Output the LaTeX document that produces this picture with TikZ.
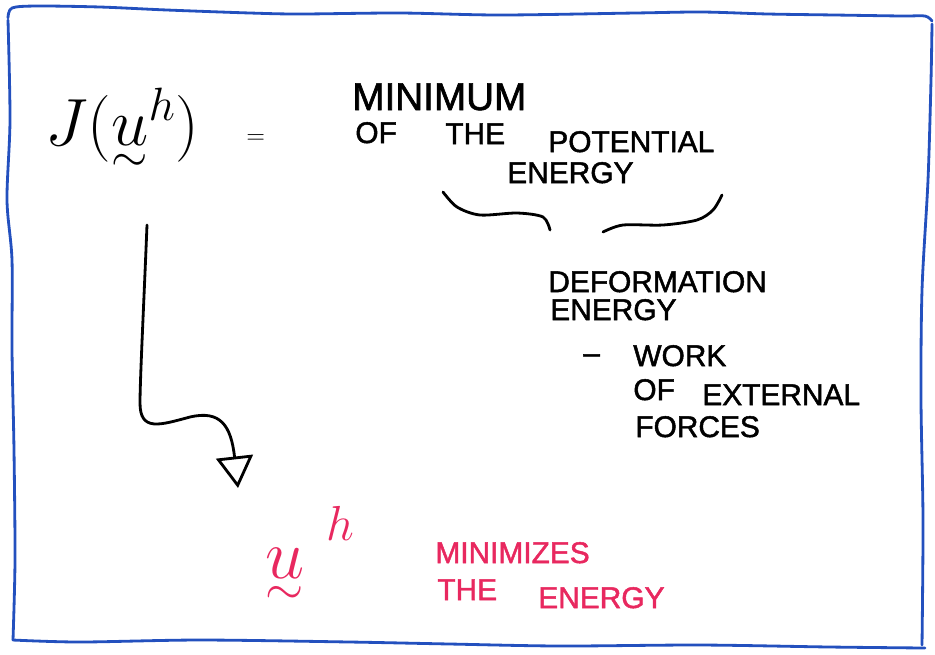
\RequirePackage{fix-cm}
\documentclass[tikz,border=0pt]{standalone}
\usepackage{amsmath}
\usepackage{fontspec}
\newfontfamily\handfont[FakeBold=1.6]{Liberation Sans}
\usetikzlibrary{arrows.meta}
\definecolor{handblue}{RGB}{35,80,190}
\definecolor{handpink}{RGB}{232,40,95}
\tikzset{
  pen/.style={line width=1.6pt, line cap=round, line join=round},
  hand/.style={font=\handfont\fontsize{17}{20}\selectfont, anchor=base west, inner sep=0pt},
  handbig/.style={hand, font=\handfont\fontsize{22}{26}\selectfont},
  redhand/.style={hand, text=handpink},
  formula/.style={anchor=base west, inner sep=0pt},
}
\begin{document}
\begin{tikzpicture}[x=0.02cm, y=-0.02cm]
\useasboundingbox (0,0) rectangle (935,654);
% frame
\draw[pen, handblue] plot[smooth] coordinates {(8,18) (12,8) (37,6) (100,7) (167,10) (250,13) (300,14) (400,13) (500,15) (635,13) (702,12) (768,14) (835,15) (902,16) (925,16) (932,21)};
\draw[pen, handblue] plot[smooth] coordinates {(932,24) (931,80) (928,180) (922,290) (921,400) (923,520) (922,645)};
\draw[pen, handblue] plot[smooth] coordinates {(13,640) (80,642) (200,640) (350,642) (450,644) (560,646) (700,645) (830,647) (925,648)};
\draw[pen, handblue] plot[smooth] coordinates {(8,20) (10,120) (7,200) (12,260) (12,350) (14,450) (15,560) (13,640)};
% functional
\node[formula, font=\fontsize{38}{44}\selectfont] (functional) at (45,145) {$J(\underset{\sim}{u}^{h})$};
\node[formula, font=\fontsize{14}{16}\selectfont] (equals) at (246,143) {$=$};
\node[handbig] (minimum) at (352,110) {MINIMUM};
\node[hand] (of) at (355,143) {OF};
\node[hand] (the) at (445,144) {THE};
\node[hand] (potential) at (548,152) {POTENTIAL};
\node[hand] (energy) at (507,183) {ENERGY};
% brace
\draw[pen] plot[smooth] coordinates {(443,192) (457,207) (480,215) (517,213) (543,217) (550,230)};
\draw[pen] plot[smooth] coordinates {(603,232) (623,225) (663,225) (697,220) (713,210) (722,195)};
\node[hand] (deformation) at (548,292) {DEFORMATION};
\node[hand] (defenergy) at (550,320) {ENERGY};
\node[hand] (minus) at (583,363) {–};
\node[hand] (work) at (633,366) {WORK};
\node[hand] (ofext) at (633,400) {OF};
\node[hand] (external) at (702,405) {EXTERNAL};
\node[hand] (forces) at (635,437) {FORCES};
% solution
\node[formula, text=handpink, font=\fontsize{40}{46}\selectfont] (solution) at (265,578) {$\underset{\sim}{u}^{\mkern8mu\raisebox{7pt}{$\scriptstyle h$}}$};
\node[redhand] (minimizes) at (435,563) {MINIMIZES};
\node[redhand] (thesol) at (437,600) {THE};
\node[redhand] (energysol) at (538,608) {ENERGY};
% arrow
\coordinate (arrowtop) at (147,225);
\coordinate (arrowtip) at (238,488);
\draw[pen, -{Triangle[open, length=18pt, width=21pt, line width=1.6pt]}] (arrowtop) .. controls (144,300) and (140,380) .. (140,403) .. controls (140,432) and (160,425) .. (190,417) .. controls (220,410) and (231,425) .. (arrowtip);
\end{tikzpicture}
\end{document}
